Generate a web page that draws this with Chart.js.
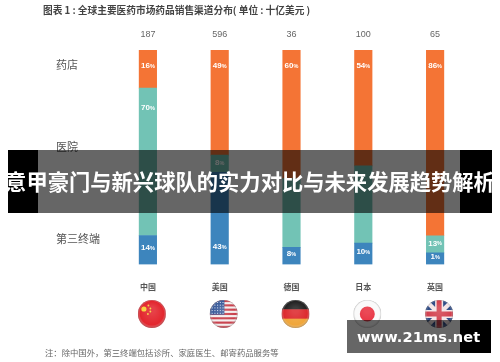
<!DOCTYPE html>
<html>
<head>
<meta charset="utf-8">
<script src="https://cdn.jsdelivr.net/npm/chart.js@4"></script>
<style>
    body { margin: 0; background: #fff; width: 500px; height: 362px; overflow: hidden; position: relative; font-family: "Noto Sans CJK SC", sans-serif; }
    canvas { position: absolute; left: 0; top: 0; filter: blur(0.45px); }
    .title { position: absolute; left: 43px; top: 3px; font-size: 9.7px; line-height: 14px; font-weight: 700; color: #444; white-space: nowrap; filter: blur(0.3px); }
    .note { position: absolute; left: 45px; top: 348px; font-size: 8.35px; line-height: 12px; color: #666; white-space: nowrap; font-family: "Liberation Serif", "Noto Sans CJK SC", serif; filter: blur(0.3px); }
    .band { position: absolute; overflow: hidden; background: rgba(0, 0, 0, 0.6); }
    .band i { position: absolute; top: 0; bottom: 0; background: #000; }
    #banner { left: 8px; top: 150px; width: 484px; height: 63px; }
    #stamp { left: 347px; top: 320px; width: 144px; height: 33px; }
    #banner span { position: absolute; left: -10px; top: 16px; width: 504px; text-align: center; color: #fff; font-size: 21.3px; line-height: 30px; font-weight: 700; white-space: nowrap; }
    #stamp span { position: absolute; left: 10px; top: 5px; color: #fff; font: 700 14.6px/24px "DejaVu Sans", sans-serif; letter-spacing: 0.1px; white-space: nowrap; }
</style>
</head>
<body>
<canvas id="chart" width="500" height="362"></canvas>
<div class="title">图表 1 : 全球主要医药市场药品销售渠道分布( 单位 : 十亿美元 )</div>
<div class="note">注：除中国外，第三终端包括诊所、家庭医生、邮寄药品服务等</div>
<div class="band" id="banner"><i style="left:0;width:30px"></i><i style="right:0;width:32px"></i><span>意甲豪门与新兴球队的实力对比与未来发展趋势解析</span></div>
<div class="band" id="stamp"><i style="right:0;width:31px"></i><span>www.21ms.net</span></div>
<script>
const countries = ['中国', '美国', '德国', '日本', '英国'];
const totals = ['187', '596', '36', '100', '65'];
const channels = ['药店', '医院', '第三终端'];
const channelTicks = [93, 55, 12];

// bar heights as measured on the picture, printed labels kept apart (they differ a bit)
const pharmacy = [17.8, 49, 60, 54, 86.6];
const hospital = [68.7, 8, 32, 36, 8];
const terminal = [13.5, 43, 8, 10, 5.4];
const pharmacyLabels = ['16', '49', '60', '54', '86'];
const hospitalLabels = ['70', '8', '', '', '13'];
const terminalLabels = ['14', '43', '8', '10', '1'];

// datasets stack bottom-up: terminal, hospital, pharmacy
const segmentLabels = {
    id: 'segmentLabels',
    afterDatasetsDraw(chart) {
        const sets = [terminalLabels, hospitalLabels, pharmacyLabels];
        const ctx = chart.ctx;
        ctx.save();
        ctx.fillStyle = '#fff';
        ctx.textBaseline = 'middle';
        ctx.textAlign = 'left';
        sets.forEach((labels, d) => {
            chart.getDatasetMeta(d).data.forEach((bar, i) => {
                if (!labels[i]) return;
                const top = bar.y, bottom = bar.base, mid = (top + bottom) / 2;
                let y = top + 16;
                if (d === 1) y = Math.min(mid - 1, top + 20);
                if (d === 0) y = Math.max(mid - 2, bottom - 18);
                ctx.font = '700 8px "Liberation Sans", sans-serif';
                const w1 = ctx.measureText(labels[i]).width;
                ctx.font = '700 5.5px "Liberation Sans", sans-serif';
                const w2 = ctx.measureText('%').width;
                const x0 = bar.x - (w1 + w2) / 2;
                ctx.font = '700 8px "Liberation Sans", sans-serif';
                ctx.fillText(labels[i], x0, y);
                ctx.font = '700 5.5px "Liberation Sans", sans-serif';
                ctx.fillText('%', x0 + w1, y + 0.5);
            });
        });
        ctx.restore();
    }
};

// little round flags under the country names
function drawFlag(ctx, idx, r) {
    if (idx === 0) {
        ctx.fillStyle = '#E3262E'; ctx.fillRect(-r, -r, 2 * r, 2 * r);
        ctx.fillStyle = '#F6D23C';
        ctx.beginPath(); ctx.arc(-8, -5, 2.6, 0, 7); ctx.fill();
        [[-3.5, -8.5], [-1.5, -5.5], [-1.5, -2.5], [-4, 0]].forEach(([x, y]) => {
            ctx.beginPath(); ctx.arc(x, y, 0.9, 0, 7); ctx.fill();
        });
    } else if (idx === 1) {
        for (let k = 0; k < 13; k++) {
            ctx.fillStyle = k % 2 ? '#F4EEEE' : '#C9404C';
            ctx.fillRect(-r, -r + k * 2 * r / 13, 2 * r, 2 * r / 13 + 0.5);
        }
        ctx.fillStyle = '#3A5A9A'; ctx.fillRect(-r, -r, r * 1.05, r * 1.05);
        ctx.fillStyle = '#DDE4F0';
        for (let a = 0; a < 5; a++) for (let b = 0; b < 5; b++) ctx.fillRect(-r + 2 + a * 2.7, -r + 2 + b * 2.7, 1, 1);
    } else if (idx === 2) {
        ['#222', '#DD2A2E', '#F0A63A'].forEach((c, k) => {
            ctx.fillStyle = c;
            ctx.fillRect(-r, -r + k * 2 * r / 3, 2 * r, 2 * r / 3 + 0.5);
        });
    } else if (idx === 3) {
        ctx.fillStyle = '#FAFAFA'; ctx.fillRect(-r, -r, 2 * r, 2 * r);
        ctx.fillStyle = '#E8303F';
        ctx.beginPath(); ctx.arc(0, 0, 7.5, 0, 7); ctx.fill();
    } else {
        ctx.fillStyle = '#F3E4E6'; ctx.fillRect(-r, -r, 2 * r, 2 * r);
        ctx.fillStyle = '#2C4A85';
        [[-1, -1], [1, -1], [-1, 1], [1, 1]].forEach(([a, b]) => {
            ctx.beginPath();
            ctx.moveTo(a * 4, b * r); ctx.lineTo(a * 11, b * r); ctx.lineTo(a * 4, b * 7);
            ctx.closePath(); ctx.fill();
            ctx.beginPath();
            ctx.moveTo(a * r, b * 4); ctx.lineTo(a * r, b * 11); ctx.lineTo(a * 7, b * 4);
            ctx.closePath(); ctx.fill();
        });
        ctx.fillStyle = '#D3414F';
        ctx.fillRect(-r, -2.5, 2 * r, 5); ctx.fillRect(-2.5, -r, 5, 2 * r);
    }
}

const flags = {
    id: 'flags',
    afterDraw(chart) {
        const ctx = chart.ctx, x = chart.scales.x, r = 14;
        countries.forEach((c, i) => {
            ctx.save();
            ctx.translate(x.getPixelForValue(i) + 4, 314);
            ctx.beginPath(); ctx.arc(0, 0, r, 0, 7); ctx.clip();
            drawFlag(ctx, i, r);
            const shine = ctx.createRadialGradient(0, -4, 3, 0, 0, r);
            shine.addColorStop(0, 'rgba(255,255,255,0.12)');
            shine.addColorStop(0.8, 'rgba(255,255,255,0)');
            shine.addColorStop(1, 'rgba(120,120,120,0.45)');
            ctx.fillStyle = shine;
            ctx.fillRect(-r, -r, 2 * r, 2 * r);
            ctx.restore();
        });
    }
};

new Chart(document.getElementById('chart'), {
    type: 'bar',
    data: {
        labels: countries,
        datasets: [
            { label: '第三终端', data: terminal, backgroundColor: '#3D85BD', barThickness: 17.5 },
            { label: '医院', data: hospital, backgroundColor: '#72C3B5', barThickness: 17.5 },
            { label: '药店', data: pharmacy, backgroundColor: '#F47435', barThickness: 17.5 },
        ],
    },
    plugins: [segmentLabels, flags],
    options: {
        responsive: false,
        animation: false,
        layout: { padding: { left: 56, right: 29, top: 0, bottom: 0 } },
        plugins: { legend: { display: false }, tooltip: { enabled: false } },
        scales: {
            x: {
                stacked: true,
                grid: { display: false },
                border: { display: false },
                afterFit: (s) => { s.height = 97.5; },
                ticks: { color: '#555', padding: 10, maxRotation: 0, font: { family: '"Noto Sans CJK SC"', size: 8, weight: 700 } },
            },
            top: {
                type: 'category',
                labels: totals,
                position: 'top',
                offset: true,
                grid: { display: false },
                border: { display: false },
                afterFit: (s) => { s.height = 50; },
                ticks: { color: '#666', padding: 2, maxRotation: 0, font: { family: '"Liberation Sans"', size: 9 } },
            },
            y: {
                stacked: true,
                min: 0,
                max: 100,
                grid: { display: false },
                border: { display: false },
                afterFit: (s) => { s.width = 56; },
                afterBuildTicks: (s) => { s.ticks = channelTicks.map((v) => ({ value: v })); },
                ticks: {
                    color: '#555',
                    crossAlign: 'far',
                    padding: 0,
                    callback: (v) => channels[channelTicks.indexOf(v)],
                    font: { family: '"Noto Sans CJK SC"', size: 11 },
                },
            },
        },
    },
});
</script>
</body>
</html>
